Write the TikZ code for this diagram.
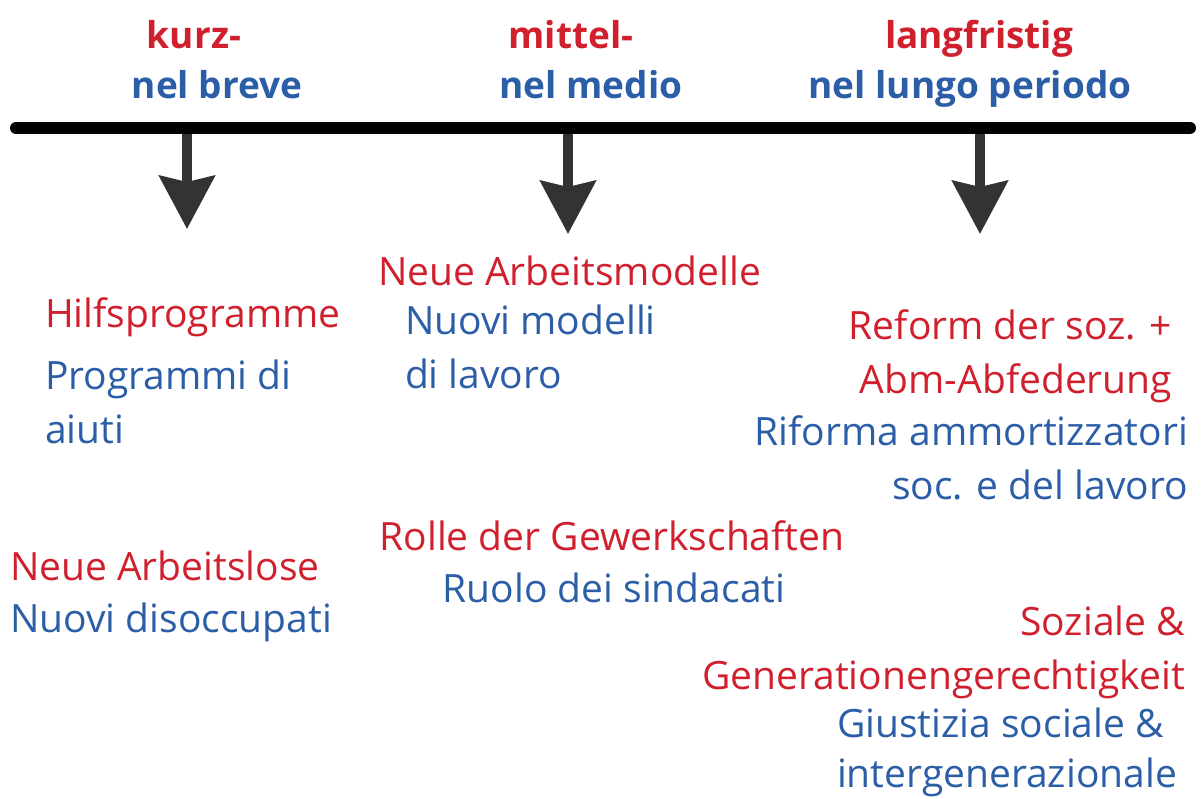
\documentclass[tikz,border=0pt]{standalone}
\usepackage{fontspec}
\setmainfont{Open Sans}
\usetikzlibrary{arrows.meta,positioning}
\definecolor{de_red}{HTML}{D0202E}
\definecolor{it_blue}{HTML}{2B5EA7}
\tikzset{
        textnode/.style={inner sep=0pt, outer sep=0pt},
        % German labels
        label_de/.style={textnode, text=de_red, font=\fontsize{39}{54}\selectfont},
        % Italian labels
        label_it/.style={textnode, text=it_blue, font=\fontsize{39}{54}\selectfont},
        % Period headings
        head_de/.style={textnode, text=de_red, font=\fontsize{37}{40}\selectfont\bfseries},
        head_it/.style={textnode, text=it_blue, font=\fontsize{37}{40}\selectfont\bfseries},
        % Timeline and arrows
        timeline/.style={line width=12pt, line cap=round, black},
        tick_arrow/.style={line width=10pt, black!80, -{Stealth[length=53pt, width=55pt, inset=6pt]}}
}
\begin{document}
\begin{tikzpicture}[x=1pt, y=-1pt]
            \useasboundingbox (0,0) rectangle (1202,798);
            % timeline
            \coordinate (line_l) at (16,128);
            \coordinate (line_r) at (1190,128);
            \draw[timeline] (line_l) -- (line_r);
            \coordinate (t_short) at (187,134);
            \coordinate (t_mid) at (568,134);
            \coordinate (t_long) at (980,134);
            \coordinate (e_short) at (187,229);
            \coordinate (e_mid) at (568,234);
            \coordinate (e_long) at (980,234);
            \draw[tick_arrow] (t_short) -- (e_short);
            \draw[tick_arrow] (t_mid) -- (e_mid);
            \draw[tick_arrow] (t_long) -- (e_long);
            % headings
            \node[head_de, anchor=base] (h_short_de) at (194,48) {kurz-};
            \node[head_it, anchor=base] (h_short_it) at (217,98) {nel breve};
            \node[head_de, anchor=base] (h_mid_de) at (571,48) {mittel-};
            \node[head_it, anchor=base] (h_mid_it) at (591,98) {nel medio};
            \node[head_de, anchor=base] (h_long_de) at (979,48) {langfristig};
            \node[head_it, anchor=base] (h_long_it) at (970,98) {nel lungo periodo};
            % short term
            \node[label_de, anchor=base west] (hilfe_de) at (45,327) {Hilfsprogramme};
            \node[label_it, anchor=base west, align=left] (hilfe_it) at (45,443) {Programmi di\\aiuti};
            \node[label_de, anchor=base west] (arbeitslos_de) at (10,580) {Neue Arbeitslose};
            \node[label_it, anchor=base west] (arbeitslos_it) at (10,632) {Nuovi disoccupati};
            % medium term
            \node[label_de, anchor=base west] (modelle_de) at (378,285) {Neue Arbeitsmodelle};
            \node[label_it, anchor=base west, align=left] (modelle_it) at (405,388) {Nuovi modelli\\di lavoro};
            \node[label_de, anchor=base] (gewerk_de) at (612,550) {Rolle der Gewerkschaften};
            \node[label_it, anchor=base] (gewerk_it) at (614,602) {Ruolo dei sindacati};
            % long term
            \node[label_de, anchor=base east, align=right] (reform_de) at (1172,393) {Reform der soz. +\\Abm-Abfederung};
            \node[label_it, anchor=base east, align=right] (reform_it) at (1188,499) {Riforma ammortizzatori\\soc. e del lavoro};
            \node[label_de, anchor=base east, align=right] (gerecht_de) at (1185,689) {Soziale \&\\Generationengerechtigkeit};
            \node[label_it, anchor=base west, align=left, font=\fontsize{39}{50}\selectfont] (gerecht_it) at (837,787) {Giustizia sociale \&\\intergenerazionale};
        \end{tikzpicture}
\end{document}
